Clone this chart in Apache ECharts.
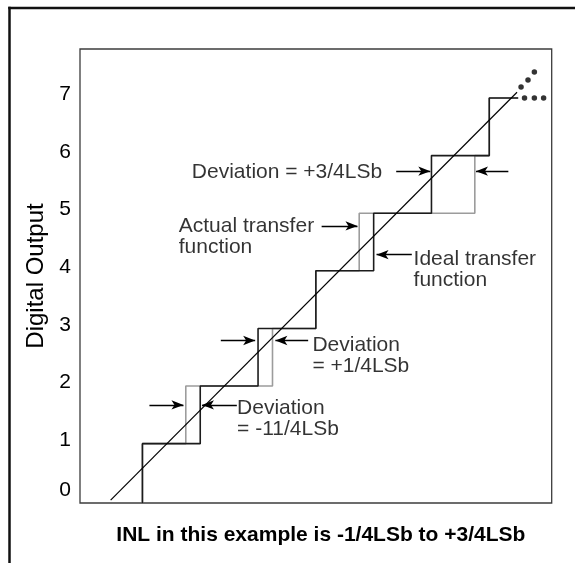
<!DOCTYPE html>
<html>
<head>
<meta charset="utf-8">
<script src="https://cdn.jsdelivr.net/npm/echarts@6/dist/echarts.min.js"></script>
<style>
html,body{margin:0;padding:0;background:#fff;overflow:hidden;}
#c{width:575px;height:563px;}
</style>
</head>
<body>
<div id="c"></div>
<script>
// ---- data ----
const yTickValues = [0, 1, 2, 3, 4, 5, 6, 7];
const idealTransitions = [1, 2, 3, 4, 5, 6, 7];          // code k starts at input k (LSB)
const actualTransitions = [1, 1.75, 3.25, 4, 4.75, 6.75, 7];
const stepEnd = 7.5;
const idealLine = [[0.45, 0.02], [7.48, 7.1]];
const dotsDiagonal = [[7.55, 7.19], [7.67, 7.31], [7.78, 7.45]];
const dotsFlat = [[7.61, 7.0], [7.78, 7.0], [7.94, 7.0]];
const annotationTexts = [
  'Deviation = +3/4LSb',
  'Actual transfer\nfunction',
  'Ideal transfer\nfunction',
  'Deviation\n= +1/4LSb',
  'Deviation\n= -11/4LSb'
];
const annotationAnchors = [[1.855, 5.72], [1.628, 4.60], [5.69, 4.02], [3.94, 2.526], [2.637, 1.425]];
// arrows: [fromX, toX, y]
const arrows = [
  [5.39, 5.98, 5.73], [7.33, 6.77, 5.73],
  [4.10, 4.72, 4.78],
  [5.66, 5.05, 4.28],
  [2.356, 2.95, 2.79], [3.867, 3.30, 2.79],
  [1.121, 1.71, 1.672], [2.633, 2.03, 1.672]
];
const xTitle = 'INL in this example is -1/4LSb to +3/4LSb';
const yTitle = 'Digital Output';

const X_MIN = -0.08, X_MAX = 8.08, Y_MIN = -0.03, Y_MAX = 7.85;

function stepPath(trans) {
  const pts = [[trans[0], Y_MIN]];
  for (let k = 0; k < trans.length; k++) {
    const code = k + 1;
    pts.push([trans[k], code]);
    const next = k + 1 < trans.length ? trans[k + 1] : stepEnd;
    pts.push([next, code]);
  }
  return pts;
}

const FONT = "'Liberation Sans', Arial, Helvetica, sans-serif";
const chart = echarts.init(document.getElementById('c'), null, {renderer: 'canvas'});

const option = {
  animation: false,
  backgroundColor: '#fff',
  graphic: [
    {type: 'line', silent: true, shape: {x1: 8.25, y1: 8, x2: 575, y2: 8},
     style: {stroke: '#111', lineWidth: 2.5}},
    {type: 'line', silent: true, shape: {x1: 9.5, y1: 6.75, x2: 9.5, y2: 563},
     style: {stroke: '#111', lineWidth: 2.5}}
  ],
  grid: {left: 80, right: 23.3, top: 49, bottom: 60, show: true,
         borderColor: '#3c3c3c', borderWidth: 1.3, backgroundColor: 'transparent'},
  xAxis: {
    type: 'value', min: X_MIN, max: X_MAX,
    axisLine: {show: false}, axisTick: {show: false}, axisLabel: {show: false},
    splitLine: {show: false},
    name: xTitle, nameLocation: 'middle', nameGap: 22,
    nameTextStyle: {fontFamily: FONT, fontSize: 21, fontWeight: 'bold', color: '#000', padding: [0, 0, 0, 10]}
  },
  yAxis: {
    type: 'value', min: Y_MIN, max: Y_MAX,
    axisLine: {show: false}, axisTick: {show: false}, splitLine: {show: false},
    axisLabel: {
      customValues: yTickValues, margin: 9, color: '#000', fontFamily: FONT, fontSize: 21,
      formatter: function (v) { return v === 0 ? '{z|0}' : '{n|' + v + '}'; },
      rich: {
        n: {fontFamily: FONT, fontSize: 21, color: '#000', padding: [0, 0, 7, 0]},
        z: {fontFamily: FONT, fontSize: 21, color: '#000', padding: [0, 0, 22, 0]}
      }
    },
    name: yTitle, nameLocation: 'middle', nameGap: 24, nameRotate: 90,
    nameTextStyle: {fontFamily: FONT, fontSize: 24, color: '#000'}
  },
  series: [
    {
      type: 'line', name: 'actual', data: stepPath(actualTransitions), symbol: 'none',
      lineStyle: {color: '#9c9c9c', width: 1.6}, z: 2
    },
    {
      type: 'line', name: 'ideal', data: stepPath(idealTransitions), symbol: 'none',
      lineStyle: {color: '#1c1c1c', width: 1.6}, z: 3
    },
    {
      type: 'line', name: 'idealLine', data: idealLine, symbol: 'none',
      lineStyle: {color: '#000', width: 1.2}, z: 4,
      markLine: {
        silent: true, symbol: ['none', 'arrow'], symbolSize: [7, 12],
        lineStyle: {color: '#000', width: 1.3, type: 'solid'},
        label: {show: false},
        data: arrows.map(a => [{coord: [a[0], a[2]]}, {coord: [a[1], a[2]]}])
      }
    },
    {
      type: 'scatter', name: 'dots', data: dotsDiagonal.concat(dotsFlat),
      symbol: 'circle', symbolSize: 5.5, itemStyle: {color: '#000'}, z: 5
    },
    {
      type: 'scatter', name: 'labels', symbolSize: 0, z: 6, silent: true,
      data: annotationAnchors.map((p, i) => ({value: p, name: annotationTexts[i]})),
      label: {
        show: true, position: 'right', distance: 0,
        formatter: p => p.name,
        fontFamily: FONT, fontSize: 21, lineHeight: 21, color: '#000', align: 'left'
      }
    }
  ]
};
chart.setOption(option);
</script>
</body>
</html>
